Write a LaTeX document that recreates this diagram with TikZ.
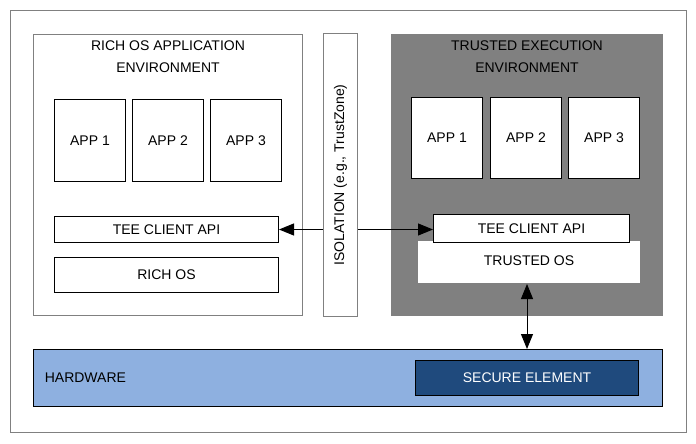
\documentclass[tikz,border=0pt]{standalone}
\usepackage{fontspec}
\setmainfont{Liberation Sans}
\usetikzlibrary{arrows.meta,positioning}
\definecolor{teegray}{HTML}{808080}
\definecolor{hwblue}{HTML}{8EB0E0}
\definecolor{seblue}{HTML}{1F4A7D}

\begin{document}
\begin{tikzpicture}[x=1pt,y=-1pt,>={Triangle[length=15pt,width=12pt]},
  line width=1pt,
  font=\fontsize{14}{22}\selectfont,
  box/.style={draw,fill=white,inner sep=0pt,anchor=north west},
  frame/.style={draw=gray,inner sep=0pt,anchor=north west}]

  \useasboundingbox (0,0) rectangle (696,444);
  \node[frame,minimum width=676pt,minimum height=422pt] (outer) at (10,10) {};

  % rich OS side
  \node[frame,fill=white,minimum width=269pt,minimum height=281pt] (ree) at (33,34) {};
  \node[align=center,anchor=north] (reet) at (168,37) {RICH OS APPLICATION\\ENVIRONMENT};
  \foreach \i/\x in {1/54,2/132,3/210}
    \node[box,minimum width=71pt,minimum height=82pt] (rapp\i) at (\x,99) {};
  \foreach \i in {1,2,3}
    \node at (rapp\i) {APP \i};
  \node[box,minimum width=224pt,minimum height=26pt] (rapi) at (54,216) {};
  \node at (rapi) {TEE CLIENT API};
  \node[box,minimum width=224pt,minimum height=35pt] (ros) at (54,257) {};
  \node at (ros) {RICH OS};

  % trusted side
  \node[frame,fill=teegray,minimum width=271pt,minimum height=281pt] (tee) at (391,34) {};
  \node[align=center,anchor=north] (teet) at (527,37) {TRUSTED EXECUTION\\ENVIRONMENT};
  \foreach \i/\x in {1/411,2/490,3/568}
    \node[box,minimum width=71pt,minimum height=81pt] (tapp\i) at (\x,97) {};
  \foreach \i in {1,2,3}
    \node at (tapp\i) {APP \i};
  \node[box,draw=gray,minimum width=223pt,minimum height=43pt] (tos) at (417,240) {};
  \node[anchor=north] at (tos.north) [yshift=-12pt] {TRUSTED OS};
  \node[box,minimum width=196pt,minimum height=28pt] (tapi) at (433,214) {};
  \node at (tapi) {TEE CLIENT API};

  % hardware
  \node[box,fill=hwblue,minimum width=629pt,minimum height=57pt] (hw) at (33,349) {};
  \node[anchor=west] at (hw.west) [xshift=8pt] {HARDWARE};
  \node[box,fill=seblue,minimum width=223pt,minimum height=35pt] (se) at (415,360) {};
  \node[white] at (se) {SECURE ELEMENT};

  \draw[<->] (rapi.east) -- (rapi.east -| tapi.west);
  \draw[<->] (tos.south -| 527,0) -- (hw.north -| 527,0);

  % isolation
  \node[frame,fill=white,minimum width=34pt,minimum height=283pt] (iso) at (323,33) {};
  \node[rotate=90] at (iso) {ISOLATION (e.g., TrustZone)};
\end{tikzpicture}
\end{document}
